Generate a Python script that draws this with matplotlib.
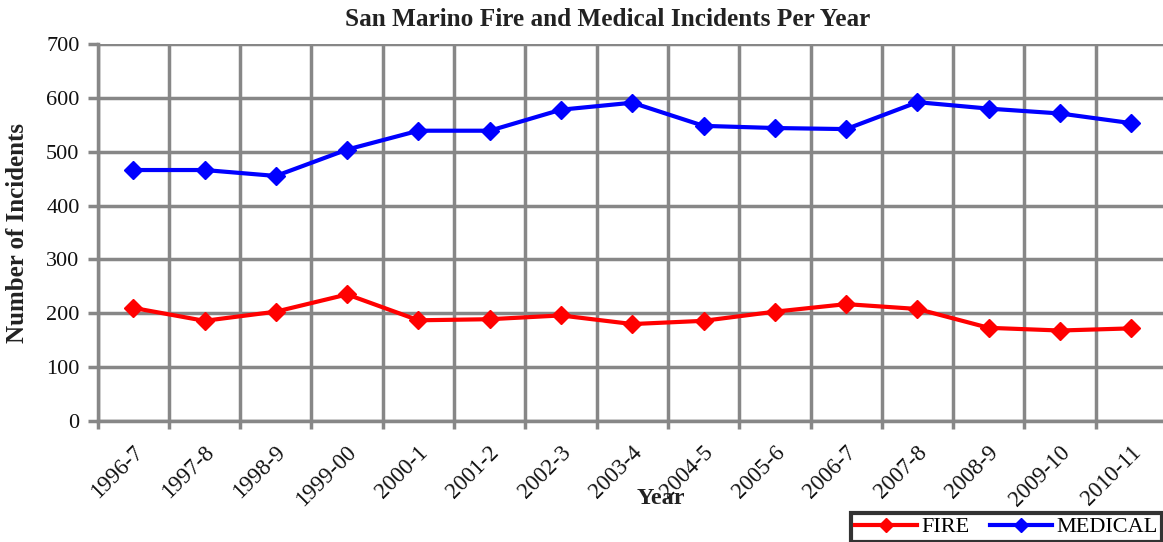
import matplotlib
matplotlib.use("Agg")
import matplotlib.pyplot as plt
import numpy as np

years = ["1996-7", "1997-8", "1998-9", "1999-00", "2000-1", "2001-2", "2002-3",
         "2003-4", "2004-5", "2005-6", "2006-7", "2007-8", "2008-9", "2009-10", "2010-11"]
fire = [210, 186, 203, 235, 187, 189, 196, 180, 186, 203, 217, 208, 173, 168, 172]
medical = [466, 466, 455, 504, 539, 539, 578, 591, 548, 544, 542, 592, 580, 571, 553]
yticks = [0, 100, 200, 300, 400, 500, 600, 700]

plt.rcParams['font.family'] = ['Liberation Serif', 'DejaVu Serif']
GRID = '#878787'

fig = plt.figure(figsize=(11.63, 5.42), dpi=100)
ax = fig.add_axes([97.6 / 1163, 1 - 421 / 542, (1167 - 97.6) / 1163, (421 - 44) / 542])

x = np.arange(len(years))
ax.plot(x, fire, color='#ff0000', lw=3, marker='D', markersize=9.5, label='FIRE', zorder=3)
ax.plot(x, medical, color='#0000ff', lw=3, marker='D', markersize=9.5, label='MEDICAL', zorder=3)

ax.set_xlim(-0.5, len(years) - 0.5)
ax.set_ylim(0, 700)
ax.set_yticks(yticks)
ax.set_yticklabels([str(v) for v in yticks], fontsize=16, color='#111111')

ax.set_xticks(np.arange(len(years) + 1) - 0.5)
ax.set_xticklabels([])
ax.set_xticks(x, minor=True)
ax.set_xticklabels(years, minor=True, rotation=45, ha='right', va='top',
                   rotation_mode='anchor', fontsize=16.5, color='#111111')
ax.tick_params(axis='x', which='minor', length=0, pad=15)
ax.tick_params(axis='x', which='major', length=6, width=2.5, color=GRID)
ax.tick_params(axis='y', length=7, width=2.5, color=GRID, pad=6)
for lbl in ax.get_xticklabels(minor=True):
    lbl.set_transform(lbl.get_transform() + matplotlib.transforms.ScaledTranslation(-1 / 100, 0, fig.dpi_scale_trans))

ax.grid(True, which='major', color=GRID, lw=2.5)
ax.set_axisbelow(True)
for s in ['top', 'right']:
    ax.spines[s].set_visible(False)
for s in ['left', 'bottom']:
    ax.spines[s].set_color(GRID)
    ax.spines[s].set_linewidth(2.5)

fig.text(608 / 1163, 1 - 19 / 542, "San Marino Fire and Medical Incidents Per Year", ha='center', va='center',
         fontsize=18.2, fontweight='bold', color='#222222')
fig.text(18 / 1163, 1 - 233 / 542, "Number of Incidents", rotation=90, ha='center', va='center',
         fontsize=18, fontweight='bold', color='#222222')
fig.text(661 / 1163, 1 - 499 / 542, "Year", ha='center', va='center',
         fontsize=17.5, fontweight='bold', color='#222222')

leg = fig.legend(loc='lower right', bbox_to_anchor=(1162 / 1163, 0.5 / 542), ncol=2, frameon=True,
                 fancybox=False, edgecolor='black', fontsize=16, borderpad=0.18,
                 handlelength=2.8, handletextpad=0.2, columnspacing=0.9, borderaxespad=0,
                 markerscale=0.8)
leg.get_frame().set_linewidth(3)

fig.savefig("out.png", dpi=100)
